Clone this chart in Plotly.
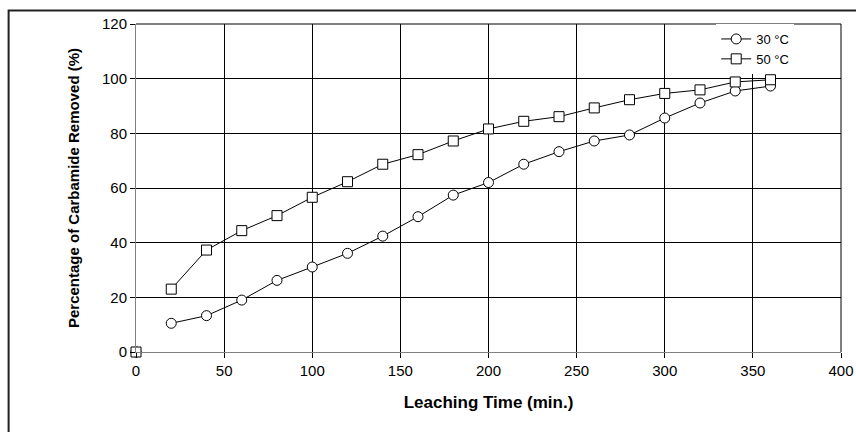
import plotly.graph_objects as go

time_min = [0, 20, 40, 60, 80, 100, 120, 140, 160, 180, 200, 220, 240, 260, 280, 300, 320, 340, 360]
removed_30 = [0, 10.5, 13.3, 19.0, 26.2, 31.1, 36.1, 42.4, 49.5, 57.4, 62.0, 68.7, 73.3, 77.2, 79.4, 85.6, 91.1, 95.5, 97.3]
removed_50 = [0, 23.0, 37.3, 44.4, 49.9, 56.6, 62.3, 68.7, 72.2, 77.2, 81.6, 84.4, 86.1, 89.3, 92.3, 94.6, 95.9, 98.8, 99.6]
series_names = ["30 °C", "50 °C"]
x_ticks = [0, 50, 100, 150, 200, 250, 300, 350, 400]
y_ticks = [0, 20, 40, 60, 80, 100, 120]

FONT = "Liberation Sans, Arial, sans-serif"

fig = go.Figure()
symbols = ["circle", "square"]
for name, vals, sym in zip(series_names, [removed_30, removed_50], symbols):
    # the t=0 point is plotted on its own, not joined to the curve
    xs = [time_min[0], None] + time_min[1:]
    ys = [vals[0], None] + vals[1:]
    fig.add_trace(go.Scatter(
        x=xs, y=ys, name=name, mode="lines+markers",
        connectgaps=False,
        line=dict(color="black", width=1),
        marker=dict(symbol=sym, size=10, color="white",
                    line=dict(color="black", width=1)),
        cliponaxis=False,
    ))

fig.update_layout(
    width=856, height=432,
    margin=dict(l=136, r=14.5, t=24, b=80, autoexpand=False),
    paper_bgcolor="white", plot_bgcolor="white",
    font=dict(family=FONT, color="black", size=15),
    showlegend=True,
    legend=dict(x=0.823, y=1, xanchor="left", yanchor="top",
                bgcolor="white", borderwidth=0, entrywidth=85,
                font=dict(family=FONT, size=13, color="black"),
                itemwidth=30, tracegroupgap=0),
    xaxis=dict(range=[0, 400], tickvals=x_ticks, ticks="outside", ticklen=5,
               tickcolor="black", showgrid=True, gridcolor="black", gridwidth=1,
               showline=True, linecolor="#808080", linewidth=1, zeroline=False,
               tickfont=dict(size=15), automargin=False,
               title=dict(text="<b>Leaching Time (min.)</b>", font=dict(size=17), standoff=18)),
    yaxis=dict(range=[0, 120], tickvals=y_ticks, ticks="outside", ticklen=5,
               tickcolor="black", showgrid=True, gridcolor="black", gridwidth=1,
               showline=True, linecolor="#808080", linewidth=1, zeroline=False,
               tickfont=dict(size=15), automargin=False,
               title=dict(text="<b>Percentage of Carbamide Removed (%)</b>", font=dict(size=15), standoff=18)),
    shapes=[
        dict(type="line", xref="paper", yref="paper", x0=0, x1=1, y0=1, y1=1,
             line=dict(color="black", width=1), layer="below"),
        dict(type="line", xref="paper", yref="paper", x0=1, x1=1, y0=0, y1=1,
             line=dict(color="black", width=1), layer="below"),
        dict(type="rect", xref="paper", yref="paper", x0=-0.1807, x1=1.1, y0=-0.4, y1=1.0412,
             line=dict(color="#222222", width=2), fillcolor="rgba(0,0,0,0)"),
    ],
)

fig.write_html(
    "out.html",
    config={"displayModeBar": False},
    post_script="document.body.style.margin='0';document.body.style.overflow='hidden';",
)
